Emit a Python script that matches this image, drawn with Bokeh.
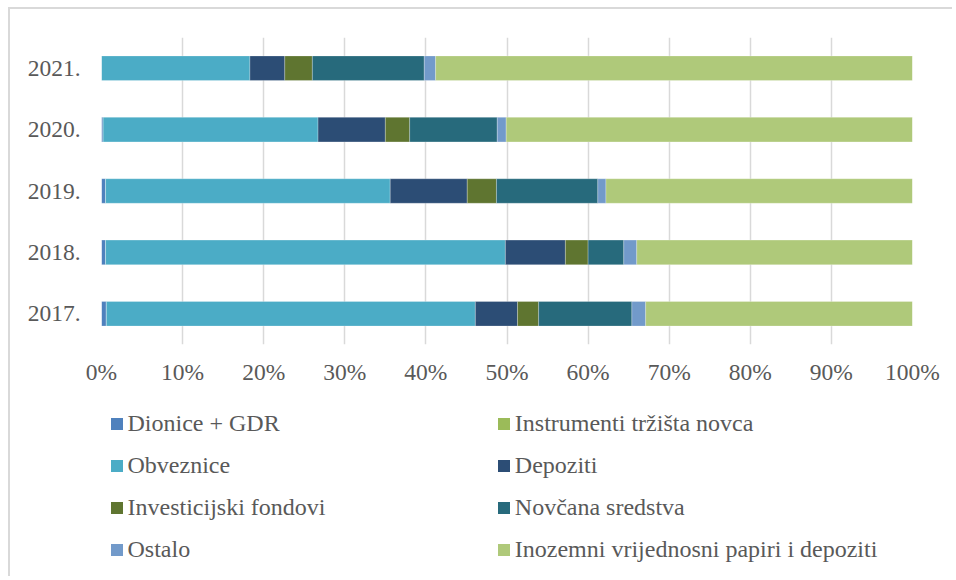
from bokeh.plotting import figure
from bokeh.layouts import column
from bokeh.models import FactorRange, Range1d, FixedTicker, Legend, LegendItem
from bokeh.embed import file_html
from bokeh.resources import INLINE

years = ["2017.", "2018.", "2019.", "2020.", "2021."]
series = ["Dionice + GDR", "Instrumenti tržišta novca", "Obveznice", "Depoziti",
          "Investicijski fondovi", "Novčana sredstva", "Ostalo",
          "Inozemni vrijednosni papiri i depoziti"]
dionice = [0.6, 0.5, 0.5, 0.2, 0.0]
instrumenti = [0.0, 0.0, 0.0, 0.0, 0.0]
obveznice = [45.5, 49.3, 35.1, 26.5, 18.3]
depoziti = [5.2, 7.4, 9.5, 8.3, 4.3]
fondovi = [2.6, 2.8, 3.6, 3.0, 3.4]
novcana = [11.5, 4.4, 12.5, 10.8, 13.8]
ostalo = [1.7, 1.6, 1.0, 1.1, 1.4]
inozemni = [32.9, 34.0, 37.8, 50.1, 58.8]
x_ticks = [0, 10, 20, 30, 40, 50, 60, 70, 80, 90, 100]
x_tick_labels = ["0%", "10%", "20%", "30%", "40%", "50%", "60%", "70%", "80%", "90%", "100%"]

colors = ["#4F81BD", "#9BBB59", "#4BACC6", "#2C4D75", "#5F7530", "#276A7C", "#729ACA", "#AFC97A"]

keys = ["s0", "s1", "s2", "s3", "s4", "s5", "s6", "s7"]
source = dict(years=years, s0=dionice, s1=instrumenti, s2=obveznice, s3=depoziti,
              s4=fondovi, s5=novcana, s6=ostalo, s7=inozemni)

FONT = "Liberation Serif"
TXT = "#595959"
BORDER = "2px solid #d9d9d9"
W = 944

# ---- chart ----
p = figure(width=W, height=386, output_backend="svg", toolbar_location=None,
           y_range=FactorRange(*years, range_padding=0), x_range=Range1d(0, 100),
           min_border_left=91, min_border_top=28, min_border_right=42, min_border_bottom=51)

p.hbar_stack(keys, y="years", height=0.4, color=colors, source=source,
             line_color="#ffffff", line_width=0.5, line_alpha=0.5)

p.outline_line_color = None
p.xaxis.ticker = FixedTicker(ticks=x_ticks)
p.xaxis.major_label_overrides = {t: l for t, l in zip(x_ticks, x_tick_labels)}
p.xgrid.ticker = FixedTicker(ticks=x_ticks)
p.xgrid.grid_line_color = "#d9d9d9"
p.xgrid.grid_line_width = 1.5
p.ygrid.grid_line_color = None

for ax in (p.xaxis, p.yaxis):
    ax.axis_line_color = None
    ax.major_tick_line_color = None
    ax.minor_tick_line_color = None
    ax.major_tick_out = 0
    ax.major_tick_in = 0
    ax.major_label_text_font = FONT
    ax.major_label_text_font_size = "23.5px"
    ax.major_label_text_color = TXT
p.xaxis.major_label_standoff = 14
p.yaxis.major_label_standoff = 21
p.styles = {"margin-left": "8px", "margin-top": "7px", "border-left": BORDER, "border-top": BORDER}

# ---- legend (swatch renderers hold no drawable data) ----
q = figure(width=W, height=183, output_backend="svg", toolbar_location=None,
           x_range=Range1d(0, 1), y_range=Range1d(0, 1),
           x_axis_type=None, y_axis_type=None,
           min_border_left=0, min_border_right=0, min_border_top=0, min_border_bottom=0)
q.outline_line_color = None
q.xgrid.visible = False
q.ygrid.visible = False

nan = float("nan")
swatches = [q.hbar(y=[nan], right=[nan], height=1, fill_color=c, line_color=None) for c in colors]

def make_legend(idx, vx):
    items = [LegendItem(label=series[i], renderers=[swatches[i]]) for i in idx]
    return Legend(items=items, location=(vx, 13), orientation="vertical",
                  glyph_width=15, glyph_height=15, label_standoff=4,
                  label_height=28, spacing=14, padding=0, margin=0,
                  border_line_color=None, background_fill_alpha=0,
                  label_text_font=FONT, label_text_font_size="24px",
                  label_text_color=TXT)

q.add_layout(make_legend([0, 2, 4, 6], 7.5), "center")
q.add_layout(make_legend([1, 3, 5, 7], 394.8), "center")
q.styles = {"margin-left": "8px", "border-left": BORDER}

layout = column(p, q, spacing=0)
open("out.html", "w").write(file_html(layout, INLINE))
